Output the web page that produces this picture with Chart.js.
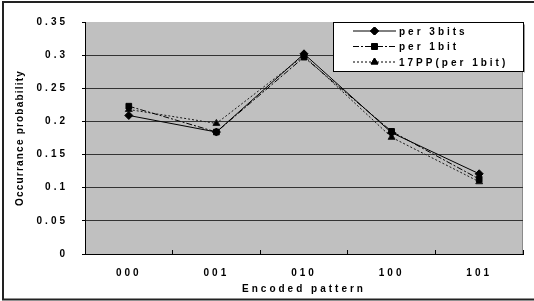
<!DOCTYPE html>
<html>
<head>
<meta charset="utf-8">
<script src="https://cdn.jsdelivr.net/npm/chart.js@4/dist/chart.umd.min.js"></script>
<style>
  html, body { margin: 0; padding: 0; background: #fff; }
  #wrap { width: 534px; height: 301px; }
</style>
</head>
<body>
<div id="wrap"><canvas id="chart"></canvas></div>
<script>
// ===== Data =====
const categories = ["000", "001", "010", "100", "101"];
const per3bits = [0.209, 0.184, 0.302, 0.183, 0.121];
const per1bit = [0.223, 0.184, 0.297, 0.185, 0.113];
const pp17 = [0.218, 0.197, 0.299, 0.176, 0.109];
const seriesLabels = ["per 3bits", "per 1bit", "17PP(per 1bit)"];
const yTicks = [0, 0.05, 0.1, 0.15, 0.2, 0.25, 0.3, 0.35];

const FONT = "'Liberation Sans', Arial, sans-serif";

// ===== Plugins =====
const frame = {
  id: "frame",
  afterLayout(chart) {
    // y title gets tighter letter spacing than the rest
    const y = chart.scales.y;
    if (!y._lsWrapped) {
      const orig = y.drawTitle.bind(y);
      y.drawTitle = function () {
        const ctx = chart.ctx;
        ctx.save();
        ctx.letterSpacing = "1.2px";
        orig();
        ctx.restore();
      };
      y._lsWrapped = true;
    }
  },
  beforeDraw(chart) {
    const { ctx, chartArea: a } = chart;
    ctx.save();
    ctx.fillStyle = "#fff";
    ctx.fillRect(0, 0, chart.width, chart.height);
    ctx.fillStyle = "#c0c0c0";
    ctx.fillRect(a.left, a.top, a.right - a.left, a.bottom - a.top);
    // right edge of the plot
    ctx.strokeStyle = "#8a8a8a";
    ctx.lineWidth = 1;
    ctx.beginPath();
    ctx.moveTo(Math.round(a.right) - 0.5, a.top);
    ctx.lineTo(Math.round(a.right) - 0.5, a.bottom);
    ctx.stroke();
    // outer frame
    ctx.strokeStyle = "#222";
    ctx.lineWidth = 2;
    ctx.beginPath();
    ctx.moveTo(chart.width, 2);
    ctx.lineTo(3, 2);
    ctx.lineTo(3, 299.5);
    ctx.lineTo(chart.width, 299.5);
    ctx.stroke();
    ctx.restore();
    ctx.letterSpacing = "3px";
  },
  afterDatasetsDraw(chart) {
    const ctx = chart.ctx;
    const box = { x: 333.5, y: 22.5, w: 190, h: 49 };
    ctx.save();
    ctx.fillStyle = "#fff";
    ctx.fillRect(box.x, box.y, box.w, box.h);
    ctx.strokeStyle = "#000";
    ctx.lineWidth = 1;
    ctx.strokeRect(box.x, box.y, box.w, box.h);
    ctx.strokeStyle = "#999";
    ctx.beginPath();
    ctx.moveTo(box.x + box.w + 1, box.y + 2);
    ctx.lineTo(box.x + box.w + 1, box.y + box.h + 1);
    ctx.stroke();

    chart.data.datasets.forEach((ds, i) => {
      const yy = 31 + i * 15.5;
      ctx.strokeStyle = "#000";
      ctx.lineWidth = 1;
      ctx.setLineDash(ds.borderDash || []);
      ctx.beginPath();
      ctx.moveTo(353, yy);
      ctx.lineTo(396, yy);
      ctx.stroke();
      ctx.setLineDash([]);
      ctx.fillStyle = "#000";
      Chart.helpers.drawPoint(ctx, {
        pointStyle: ds.pointStyle,
        radius: ds.pointRadius,
        rotation: 0,
        borderWidth: 1
      }, 374.5, yy);
      ctx.fill();
      ctx.stroke();
      ctx.font = "bold 10px " + FONT;
      ctx.letterSpacing = "3px";
      ctx.textBaseline = "middle";
      ctx.textAlign = "left";
      ctx.fillStyle = "#000";
      ctx.fillText(ds.label, 399, yy + 1);
    });
    ctx.restore();
  }
};

// ===== Chart =====
new Chart(document.getElementById("chart"), {
  type: "line",
  data: {
    labels: categories,
    datasets: [
      {
        label: seriesLabels[0],
        data: per3bits,
        borderColor: "#000",
        backgroundColor: "#000",
        borderWidth: 1,
        pointStyle: "rectRot",
        pointRadius: 4,
        tension: 0
      },
      {
        label: seriesLabels[1],
        data: per1bit,
        borderColor: "#000",
        backgroundColor: "#000",
        borderWidth: 1,
        borderDash: [6, 2, 2, 2],
        pointStyle: "rect",
        pointRadius: 4,
        tension: 0
      },
      {
        label: seriesLabels[2],
        data: pp17,
        borderColor: "#1a1a1a",
        backgroundColor: "#000",
        borderWidth: 1,
        borderDash: [2, 2],
        pointStyle: "triangle",
        pointRadius: 4,
        tension: 0
      }
    ]
  },
  options: {
    responsive: true,
    maintainAspectRatio: false,
    animation: false,
    layout: { padding: { left: 0, top: 22, right: 11, bottom: 0 } },
    plugins: {
      legend: { display: false },
      tooltip: { enabled: false }
    },
    scales: {
      x: {
        offset: true,
        afterFit: (s) => { s.height = 47; },
        grid: {
          offset: true,
          drawOnChartArea: false,
          tickLength: -4,
          color: "#000"
        },
        border: { color: "#000", width: 1 },
        ticks: {
          padding: 17,
          color: "#000",
          font: { family: FONT, size: 10, weight: "bold" }
        },
        title: {
          display: true,
          text: "Encoded pattern",
          color: "#000",
          padding: { top: 0, bottom: 6 },
          font: { family: FONT, size: 10, weight: "bold" }
        }
      },
      y: {
        min: yTicks[0],
        max: yTicks[yTicks.length - 1],
        afterFit: (s) => { s.width = 85; },
        afterBuildTicks: (s) => { s.ticks = yTicks.map((v) => ({ value: v })); },
        grid: {
          tickLength: 3,
          tickColor: "#000",
          color: (c) => (c.tick && c.tick.value >= 0.35 ? "rgba(0,0,0,0)" : "#333"),
          lineWidth: 1
        },
        border: { color: "#000", width: 1 },
        ticks: {
          padding: 14,
          color: "#000",
          font: { family: FONT, size: 10, weight: "bold" },
          callback: (v) => String(+Number(v).toFixed(2))
        },
        title: {
          display: true,
          text: "Occurrance probability",
          color: "#000",
          padding: { top: 14, bottom: 0 },
          font: { family: FONT, size: 10, weight: "bold" }
        }
      }
    }
  },
  plugins: [frame]
});
</script>
</body>
</html>
